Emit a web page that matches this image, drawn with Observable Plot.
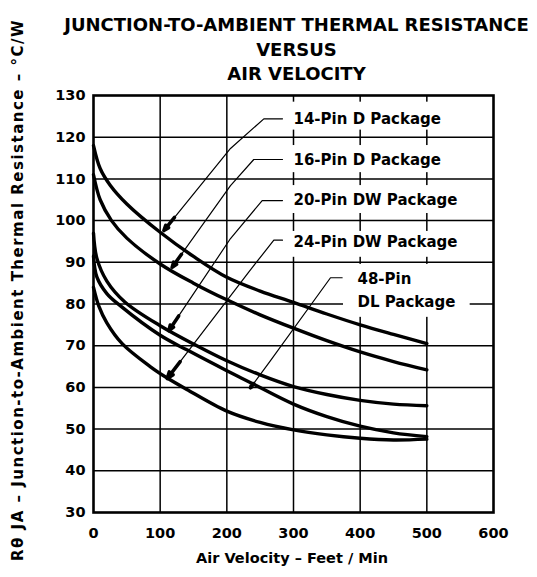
<!DOCTYPE html>
<html><head><meta charset="utf-8">
<script src="https://cdn.jsdelivr.net/npm/d3@7"></script>
<script src="https://cdn.jsdelivr.net/npm/@observablehq/plot@0.6"></script>
<style>body{margin:0;background:#fff} svg{display:block}</style>
</head><body><div id="chart"></div>
<script>
// ---- texts ----
const titleLines = ["JUNCTION-TO-AMBIENT THERMAL RESISTANCE", "VERSUS", "AIR VELOCITY"];
const xLabel = "Air Velocity – Feet / Min";
const yLabel = "Rθ JA – Junction-to-Ambient Thermal Resistance – °C/W";
const xTicks = [0, 100, 200, 300, 400, 500, 600];
const yTicks = [30, 40, 50, 60, 70, 80, 90, 100, 110, 120, 130];
const xGrid = [100, 200, 300, 400, 500];
const yGrid = [40, 50, 60, 70, 80, 90, 100, 110, 120];

// ---- series (air velocity ft/min -> °C/W) ----
const seriesNames = ["14-Pin D", "16-Pin D", "20-Pin DW", "48-Pin DL", "24-Pin DW"];
const vel14 = [0, 10, 25, 50, 100, 150, 200, 250, 300, 350, 400, 450, 500];
const res14 = [118, 112.5, 108.5, 104, 97.2, 91.4, 86.4, 83.1, 80.4, 77.6, 75, 72.7, 70.5];
const vel16 = [0, 10, 27, 50, 100, 150, 200, 250, 300, 350, 400, 450, 500];
const res16 = [111, 105, 100, 95.8, 89.6, 85, 81, 77.4, 74.2, 71.2, 68.5, 66.2, 64.2];
const vel20 = [0, 5, 20, 47, 100, 155, 200, 250, 300, 350, 400, 450, 500];
const res20 = [97, 91, 85.5, 80.5, 74.8, 70, 66.4, 63, 60.2, 58.3, 56.9, 56, 55.6];
const vel48 = [0, 5, 20, 40, 100, 140, 200, 235, 300, 350, 400, 450, 500];
const res48 = [91.5, 86.5, 82.5, 79.6, 72.5, 69, 64, 61.2, 56, 53, 50.7, 49.1, 48.2];
const vel24 = [0, 8, 20, 43, 85, 110, 140, 200, 250, 300, 350, 400, 450, 500];
const res24 = [84, 79.5, 75.5, 70.5, 65, 62.3, 59.5, 54.3, 51.6, 49.8, 48.6, 47.8, 47.4, 47.6];
const seriesVel = [vel14, vel16, vel20, vel48, vel24];
const seriesRes = [res14, res16, res20, res48, res24];

// ---- annotations (data units) ----
const labelTexts = ["14-Pin D Package", "16-Pin D Package", "20-Pin DW Package", "24-Pin DW Package", "48-Pin", "DL Package"];
const labelVel = [300, 300, 300, 300, 396, 396];
const labelRes = [124.4, 114.6, 104.8, 94.8, 85.9, 80.4];

// leader polylines: tip -> bend -> start of horizontal -> end of horizontal
const leaderVel = [
  [105.5, 205.5, 255.5, 283.5],
  [118, 205.5, 240.4, 283.5],
  [113, 205.5, 253, 283.5],
  [110.5, 232.5, 270.5, 283.5],
  [235.5, 265.5, 355.5, 373]
];
const leaderRes = [
  [97.6, 117.3, 124.4, 124.4],
  [88.8, 108.4, 114.65, 114.65],
  [73.6, 95.7, 104.8, 104.8],
  [62.1, 87.6, 95.3, 95.3],
  [59.9, 66.4, 86.3, 86.3]
];

// white label backgrounds (cover grid)
const boxVel1 = [288, 288, 288, 288, 375];
const boxVel2 = [560, 560, 560, 560, 565];
const boxRes1 = [121.7, 111.5, 101.7, 91.2, 76.8];
const boxRes2 = [128.4, 118, 108.4, 97.4, 89.5];

// ---- build tables ----
const curves = seriesNames.flatMap((name, i) =>
  seriesVel[i].map((v, j) => ({series: name, velocity: v, resistance: seriesRes[i][j]})));
const labels = labelTexts.map((t, i) => ({text: t, velocity: labelVel[i], resistance: labelRes[i]}));
const leaders = leaderVel.flatMap((vs, i) => vs.map((v, j) => ({id: i, velocity: v, resistance: leaderRes[i][j]})));
const heads = leaderVel.map((vs, i) => {
  const t = 0.16;
  return {
    x1: vs[0] + (vs[1] - vs[0]) * t, y1: leaderRes[i][0] + (leaderRes[i][1] - leaderRes[i][0]) * t,
    x2: vs[0], y2: leaderRes[i][0]
  };
});
const boxes = boxVel1.map((v, i) => ({x1: v, x2: boxVel2[i], y1: boxRes1[i], y2: boxRes2[i]}));

const font = "DejaVu Sans, Arial, sans-serif";

const chart = Plot.plot({
  width: 537,
  height: 577,
  marginLeft: 93,
  marginRight: 44,
  marginTop: 95,
  marginBottom: 65,
  x: {domain: [0, 600]},
  y: {domain: [30, 130]},
  style: {fontFamily: font, fontWeight: "bold", fontSize: "14px", color: "black", background: "white"},
  marks: [
    Plot.ruleY(yGrid, {stroke: "black", strokeWidth: 1.5}),
    Plot.ruleX(xGrid, {stroke: "black", strokeWidth: 1.5}),
    Plot.rect(boxes, {x1: "x1", x2: "x2", y1: "y1", y2: "y2", fill: "white"}),
    Plot.frame({stroke: "black", strokeWidth: 2.6}),
    Plot.line(curves, {x: "velocity", y: "resistance", z: "series", curve: "catmull-rom", stroke: "black", strokeWidth: 3.4}),
    Plot.line(leaders, {x: "velocity", y: "resistance", z: "id", stroke: "black", strokeWidth: 1.2}),
    Plot.arrow(heads, {x1: "x1", y1: "y1", x2: "x2", y2: "y2", stroke: "black", strokeWidth: 3.5, headLength: 11, headAngle: 40}),
    Plot.text(labels, {x: "velocity", y: "resistance", text: "text", textAnchor: "start", fontSize: 15, fontWeight: "bold", fill: "black"}),
    Plot.axisX({ticks: xTicks, tickSize: 0, tickPadding: 15, label: null, fontSize: 14.5, fontWeight: "bold"}),
    Plot.axisY({ticks: yTicks, tickSize: 0, tickPadding: 8, label: null, fontSize: 14.5, fontWeight: "bold"}),
    Plot.text([xLabel], {frameAnchor: "bottom", dy: 50, dx: -1.5, fontSize: 14.5, fontWeight: "bold", fill: "black"}),
    Plot.text([yLabel], {frameAnchor: "left", textAnchor: "middle", rotate: -90, dx: -75, dy: -14, fontSize: 15, fontWeight: "bold", fill: "black"}),
    Plot.text([titleLines.join("\n")], {frameAnchor: "top", lineAnchor: "top", dy: -81.7, dx: 3, lineHeight: 1.36, fontSize: 18, fontWeight: "bold", fill: "black"})
  ]
});
// spread the rotated axis title along the full height, as in the reference
d3.select(chart).selectAll("text").filter(function() { return this.textContent === yLabel; })
  .style("letter-spacing", "1.5px");
document.getElementById("chart").appendChild(chart);
</script>
</body></html>
